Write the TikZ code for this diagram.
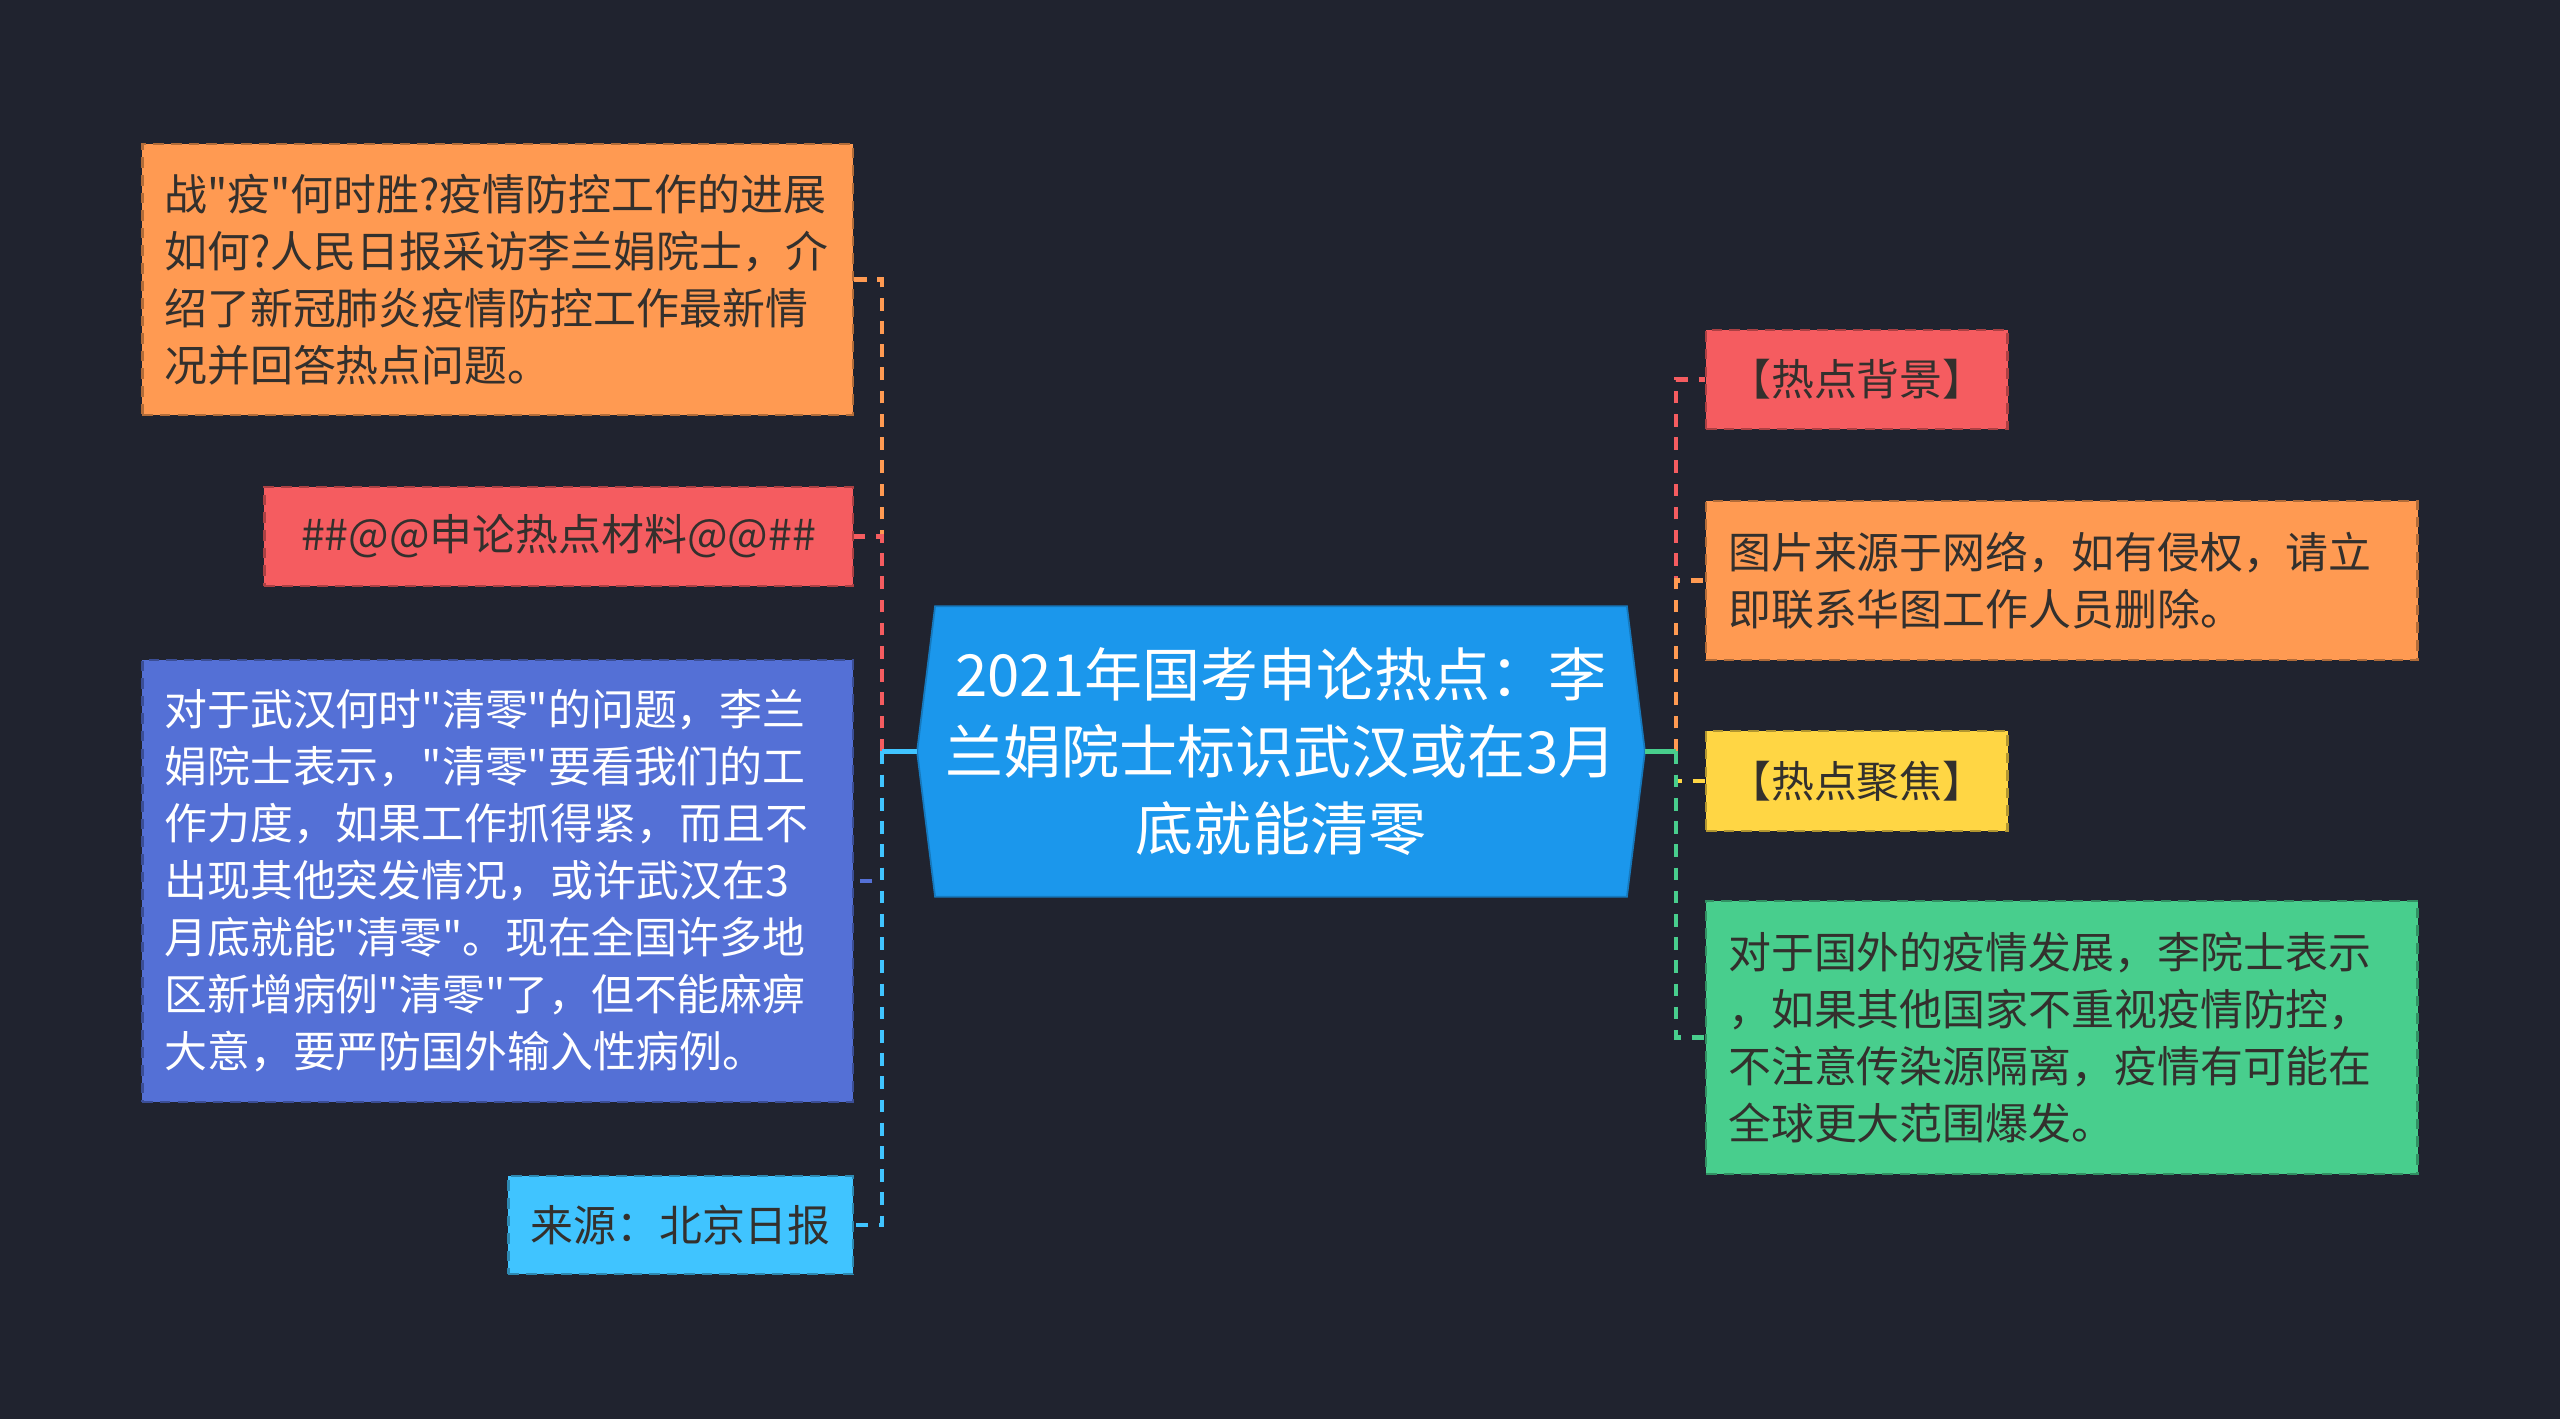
\documentclass[tikz,border=0pt]{standalone}
\usepackage{fontspec}
\setmainfont{Noto Sans CJK SC}[Ligatures=TeXOff]
\usetikzlibrary{backgrounds}

\definecolor{bgdark}{HTML}{20232F}
\definecolor{topicblue}{HTML}{1B97EC}
\definecolor{boxorange}{HTML}{FF9A52}
\definecolor{boxred}{HTML}{F55C60}
\definecolor{boxpurple}{HTML}{5470D6}
\definecolor{boxcyan}{HTML}{40C4FF}
\definecolor{boxyellow}{HTML}{FFD644}
\definecolor{boxgreen}{HTML}{48CE8D}
\definecolor{inkdark}{HTML}{33302D}

\tikzset{
  topic/.style={rectangle, minimum width=7.26cm, minimum height=2.89cm, inner sep=0pt,
    align=center, text=white, font=\fontsize{16.5pt}{22pt}\selectfont},
  leaf/.style={rectangle, fill=#1, draw=#1!70!black, line width=0.7pt, densely dashed,
    inner xsep=0.22cm, inner ysep=0pt, text=inkdark, font=\fontsize{12.2pt}{16.2pt}\selectfont},
  branch/.style={line width=1.3pt},
  twig/.style={line width=1.3pt, dash pattern=on 3.6pt off 3pt}
}

\begin{document}
\begin{tikzpicture}[x=0.01cm, y=-0.01cm]
    \useasboundingbox (0,0) rectangle (2560,1419);

    % Central topic
    \node[topic] (hub) at (1281, 751.5) {2021年国考申论热点：李\\兰娟院士标识武汉或在3月\\底就能清零};
    \coordinate (lhub) at ([xshift=-0.35cm]hub.west);
    \coordinate (rhub) at ([xshift=0.31cm]hub.east);

    % Left leaves
    \node[leaf=boxorange, text width=6.66cm, align=left, minimum height=2.71cm, anchor=east] (l1) at (854, 279.5)
        {战"疫"何时胜?疫情防控工作的进展\\如何?人民日报采访李兰娟院士，介\\绍了新冠肺炎疫情防控工作最新情\\况并回答热点问题。};
    \node[leaf=boxred, minimum width=5.88cm, minimum height=0.99cm, anchor=east] (l2) at (854, 536.5)
        {\#\#@@申论热点材料@@\#\#};
    \node[leaf=boxpurple, text=white, text width=6.66cm, align=left, minimum height=4.42cm, anchor=east] (l3) at (854, 881)
        {对于武汉何时"清零"的问题，李兰\\娟院士表示，"清零"要看我们的工\\作力度，如果工作抓得紧，而且不\\出现其他突发情况，或许武汉在3\\月底就能"清零"。现在全国许多地\\区新增病例"清零"了，但不能麻痹\\大意，要严防国外输入性病例。};
    \node[leaf=boxcyan, minimum width=3.43cm, minimum height=0.98cm, anchor=east] (l4) at (854, 1225)
        {来源：北京日报};

    % Right leaves
    \node[leaf=boxred, minimum width=3.00cm, minimum height=0.99cm, anchor=west] (r1) at (1705, 379.5)
        {【热点背景】};
    \node[leaf=boxorange, text width=6.67cm, align=left, minimum height=1.59cm, anchor=west] (r2) at (1705, 580.5)
        {图片来源于网络，如有侵权，请立\\即联系华图工作人员删除。};
    \node[leaf=boxyellow, minimum width=3.00cm, minimum height=1.00cm, anchor=west] (r3) at (1705, 781)
        {【热点聚焦】};
    \node[leaf=boxgreen, text width=6.67cm, align=left, minimum height=2.73cm, anchor=west] (r4) at (1705, 1037.5)
        {对于国外的疫情发展，李院士表示\\，如果其他国家不重视疫情防控，\\不注意传染源隔离，疫情有可能在\\全球更大范围爆发。};

    % Connectors, left side
    \draw[branch, boxorange] (hub.west) -- (lhub);
    \draw[twig, boxorange] (lhub) |- (l1.east);
    \draw[branch, boxred] (hub.west) -- (lhub);
    \draw[twig, boxred] (lhub) |- (l2.east);
    \draw[branch, boxpurple] (hub.west) -- (lhub);
    \draw[twig, boxpurple] (lhub) |- (l3.east);
    \draw[branch, boxcyan] (hub.west) -- (lhub);
    \draw[twig, boxcyan] (lhub) |- (l4.east);

    % Connectors, right side
    \draw[branch, boxred] (hub.east) -- (rhub);
    \draw[twig, boxred] (rhub) |- (r1.west);
    \draw[branch, boxorange] (hub.east) -- (rhub);
    \draw[twig, boxorange] (rhub) |- (r2.west);
    \draw[branch, boxyellow] (hub.east) -- (rhub);
    \draw[twig, boxyellow] (rhub) |- (r3.west);
    \draw[branch, boxgreen] (hub.east) -- (rhub);
    \draw[twig, boxgreen] (rhub) |- (r4.west);

    % Background and topic shape
    \begin{scope}[on background layer]
        \fill[bgdark] (0,0) rectangle (2560,1419);
        \fill[topicblue, draw=topicblue!80!black, line width=0.5pt]
            ([xshift=0.18cm]hub.north west) -- ([xshift=-0.18cm]hub.north east) -- (hub.east)
            -- ([xshift=-0.18cm]hub.south east) -- ([xshift=0.18cm]hub.south west) -- (hub.west) -- cycle;
    \end{scope}
\end{tikzpicture}
\end{document}
